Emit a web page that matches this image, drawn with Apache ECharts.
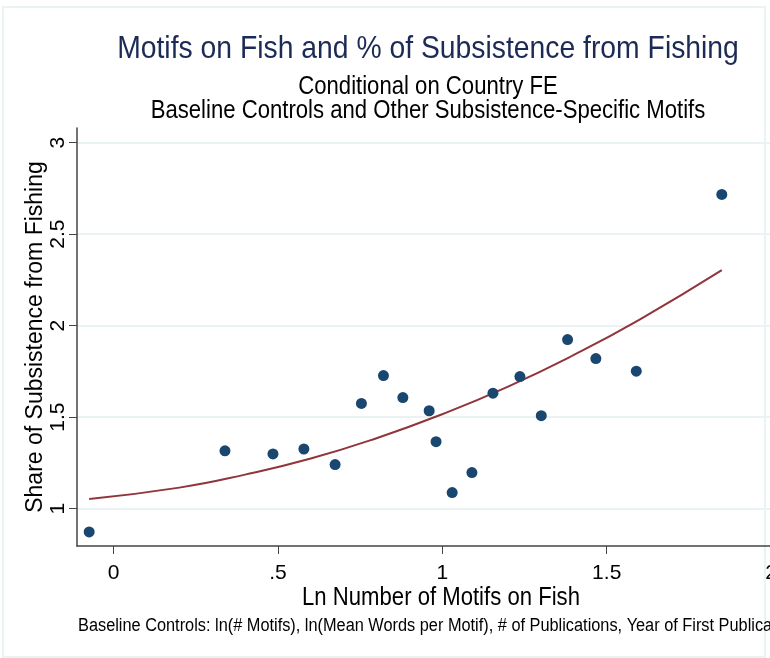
<!DOCTYPE html>
<html>
<head>
<meta charset="utf-8">
<script src="https://cdn.jsdelivr.net/npm/echarts@6/dist/echarts.min.js"></script>
<style>
  html, body { margin: 0; padding: 0; background: #fff; }
  #app { width: 770px; height: 658px; }
</style>
</head>
<body>
<div id="app"></div>
<script>
// binned scatter: ln number of fish motifs vs share of subsistence from fishing
const motifsLn = [-0.074, 0.339, 0.485, 0.579, 0.674, 0.754, 0.821, 0.880, 0.960, 0.981, 1.030, 1.090, 1.154, 1.236, 1.301, 1.381, 1.467, 1.590, 1.850];
const fishShare = [0.873, 1.316, 1.299, 1.326, 1.241, 1.575, 1.727, 1.607, 1.535, 1.366, 1.088, 1.197, 1.631, 1.722, 1.508, 1.924, 1.820, 1.751, 2.717];

// fitted curve
const fitX = [-0.074, 0.2, 0.4, 0.6, 0.8, 1.0, 1.2, 1.4, 1.6, 1.85];
const fitY = [1.053, 1.115, 1.186, 1.274, 1.385, 1.516, 1.667, 1.840, 2.033, 2.303];

const xTicks = [0, 0.5, 1, 1.5, 2];
const yTicks = [1, 1.5, 2, 2.5, 3];

const font = "'Liberation Sans', Arial, sans-serif";
const squeeze = 0.885; // stata text in the picture is narrower than arial

const tickLabel = v => String(v).replace(/^0\./, '.');

// horizontal text item, squeezed around its anchor
function label(text, x, y, size, color, align, sx) {
  return {
    type: 'text', silent: true,
    x: x, y: y, scaleX: sx || squeeze,
    style: {
      text: text, x: 0, y: 0,
      align: align || 'center', verticalAlign: 'middle',
      fontFamily: font, fontSize: size, fill: color || '#000'
    }
  };
}

const chart = echarts.init(document.getElementById('app'));

chart.setOption({
  backgroundColor: '#fff',
  animation: false,
  // plot region runs past the right edge of the picture, as in the original crop
  grid: { left: 77, top: 128, width: 727, height: 418, outerBoundsMode: 'none' },
  xAxis: {
    type: 'value',
    min: -0.111,
    max: 2.1,
    axisLine: { onZero: false, lineStyle: { color: '#444', width: 1.5 } },
    axisTick: { customValues: xTicks, length: 8, lineStyle: { color: '#444' } },
    axisLabel: {
      customValues: xTicks, formatter: tickLabel, margin: 17,
      fontFamily: font, fontSize: 21, color: '#000',
      showMaxLabel: true, hideOverlap: false
    },
    splitLine: { show: false }
  },
  yAxis: {
    type: 'value',
    min: 0.796,
    max: 3.08,
    name: 'Share of Subsistence from Fishing',
    nameLocation: 'middle',
    nameGap: 30,
    nameMoveOverlap: false,
    nameTextStyle: { fontFamily: font, fontSize: 23, color: '#000' },
    axisLine: { onZero: false, lineStyle: { color: '#444', width: 1.5 } },
    axisTick: { customValues: yTicks, length: 8, lineStyle: { color: '#444' } },
    axisLabel: {
      customValues: yTicks, formatter: tickLabel, rotate: 90, margin: 8,
      fontFamily: font, fontSize: 21, color: '#000'
    },
    splitLine: { show: false }
  },
  graphic: [
    {
      type: 'rect', silent: true, z: -10,
      shape: { x: 3, y: 7, width: 762, height: 650 },
      style: { fill: 'none', stroke: '#eaf2f3', lineWidth: 2 }
    },
    label('Motifs on Fish and % of Subsistence from Fishing', 428, 49, 32, '#1c2a56'),
    label('Conditional on Country FE', 428, 87, 25),
    label('Baseline Controls and Other Subsistence-Specific Motifs', 428, 111, 25),
    label('Ln Number of Motifs on Fish', 441, 598, 25),
    label('Baseline Controls: ln(# Motifs), ln(Mean Words per Motif), # of Publications, Year of First Publication',
      78, 626, 18, '#000', 'left', 0.907)
  ],
  series: [
    {
      // gridlines only, kept under the marks
      type: 'scatter',
      data: [],
      z: 0,
      markLine: {
        silent: true, symbol: 'none', label: { show: false }, z: 0,
        lineStyle: { color: '#eaf2f3', type: 'solid', width: 2 },
        data: yTicks.map(v => ({ yAxis: v }))
      }
    },
    {
      type: 'line',
      data: fitX.map((x, i) => [x, fitY[i]]),
      smooth: true,
      showSymbol: false,
      lineStyle: { color: '#90353b', width: 2 },
      z: 2
    },
    {
      type: 'scatter',
      data: motifsLn.map((x, i) => [x, fishShare[i]]),
      symbolSize: 11,
      itemStyle: { color: '#1a476f', opacity: 1 },
      z: 3
    }
  ]
});
</script>
</body>
</html>
